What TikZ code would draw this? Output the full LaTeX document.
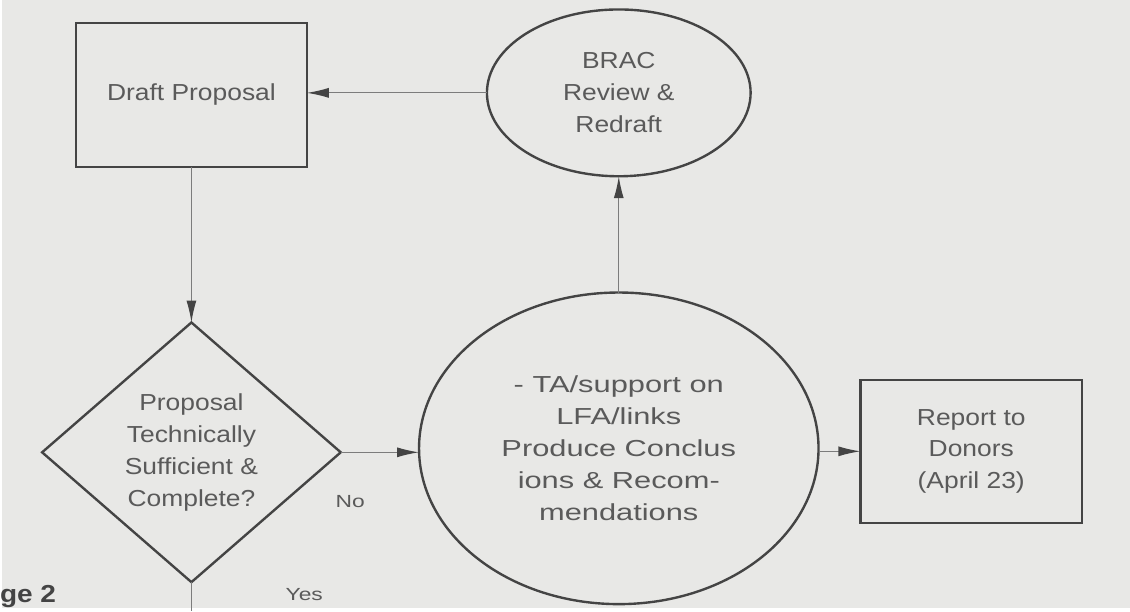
\documentclass[tikz,border=0pt]{standalone}
\usepackage{fontspec}
\setmainfont{Liberation Sans}
\newfontfamily\widesans[FakeStretch=1.14]{Liberation Sans}
\newfontfamily\widersans[FakeStretch=1.33]{Liberation Sans}
\newfontfamily\tagsans[FakeStretch=1.3]{Liberation Sans}
\usetikzlibrary{arrows.meta,positioning,shapes.geometric}
\definecolor{paper}{HTML}{E8E8E6}
\definecolor{ink}{HTML}{444444}
\definecolor{txt}{HTML}{5A5A5A}
\definecolor{wire}{HTML}{7C7C7C}

\begin{document}
\begin{tikzpicture}[
  x=0.025cm, y=-0.025cm,
  font=\widesans\fontsize{16.5}{22.7}\selectfont,
  text=txt,
  box/.style={draw=ink, rectangle, line width=1.7pt, align=center, inner sep=0pt, outer sep=0pt},
  oval/.style={draw=ink, ellipse, line width=1.7pt, align=center, inner sep=0pt, outer sep=0pt},
  decision/.style={draw=ink, diamond, line width=1.7pt, align=center, inner sep=0pt, outer sep=0pt},
  flow/.style={draw=wire, line width=0.9pt, -{Latex[length=5.5mm, width=2.5mm, color=ink]}},
  tag/.style={font=\tagsans\fontsize{12.5}{14}\selectfont}
]
\fill[paper] (0,0) rectangle (1130,609);

\node[box, minimum width=5.775cm, minimum height=3.6cm] (draft) at (190,95) {Draft Proposal};
\node[oval, minimum width=6.6cm, minimum height=4.175cm] (brac) at (618,93) {BRAC\\Review \&\\Redraft};
\node[decision, minimum width=7.475cm, minimum height=6.5cm] (check) at (190,453) {Proposal\\Technically\\Sufficient \&\\Complete?};
\node[oval, minimum width=10cm, minimum height=7.8cm, font=\widersans\fontsize{16.5}{22.7}\selectfont] (ta) at (618,449) {- TA/support on\\LFA/links\\Produce Conclus\\ions \& Recom-\\mendations};
\node[box, minimum width=5.55cm, minimum height=3.575cm] (report) at (971,452) {Report to\\Donors\\(April 23)};

\node[tag] (no) at (349,502) {No};
\node[tag] (yes) at (303,595) {Yes};
\node[anchor=west, inner sep=0pt, text=ink, font=\widesans\fontsize{17.5}{20}\selectfont\bfseries] (stage) at (-2,597) {ge 2};
\coordinate (exit) at (190,612);

\draw[flow] (brac.west) -- (draft.east |- brac.west);
\draw[flow] (draft.south) -- (check.north);
\draw[flow] (check.east) -- (ta.west |- check.east);
\draw[flow] (ta.north) -- (brac.south);
\draw[flow] (ta.east |- report.west) -- (report.west);
\draw[draw=wire, line width=0.9pt] (check.south) -- (exit);
\end{tikzpicture}
\end{document}
